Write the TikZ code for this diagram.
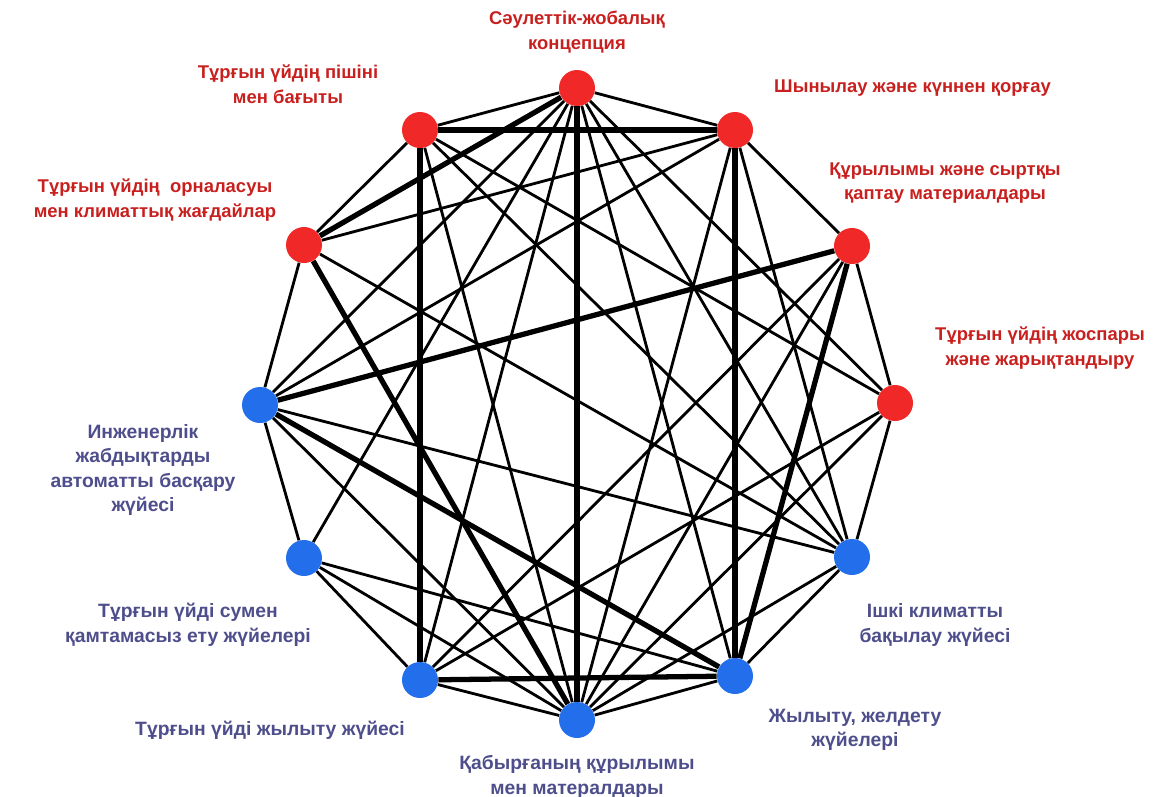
\documentclass[tikz,border=0pt]{standalone}
\usepackage{fontspec}
\setmainfont{Liberation Sans}
\usetikzlibrary{backgrounds}
\definecolor{nodered}{RGB}{240,40,40}
\definecolor{nodeblue}{RGB}{35,110,235}
\definecolor{txtred}{RGB}{200,32,30}
\definecolor{txtblue}{RGB}{78,78,140}
\begin{document}
\begin{tikzpicture}
[x=0.02cm,y=-0.02cm]
\tikzset{rd/.style={circle,fill=nodered,minimum size=0.72cm,inner sep=0pt}}
\tikzset{bl/.style={circle,fill=nodeblue,minimum size=0.72cm,inner sep=0pt}}
\tikzset{lbr/.style={text=txtred,font=\bfseries\fontsize{10.5}{14}\selectfont,align=center}}
\tikzset{lbb/.style={text=txtblue,font=\bfseries\fontsize{11}{14}\selectfont,align=center}}
\tikzset{lnk/.style={line width=1.6pt}}
\tikzset{lnkb/.style={line width=3pt}}
\useasboundingbox (0,0) rectangle (1167,796);
\node [rd] (a) at (577,88) {};
\node [rd] (b) at (735,130) {};
\node [rd] (c) at (852,246) {};
\node [rd] (d) at (895,403) {};
\node [bl] (e) at (852,557) {};
\node [bl] (f) at (735,676) {};
\node [bl] (g) at (577,720) {};
\node [bl] (h) at (420,680) {};
\node [bl] (i) at (304,558) {};
\node [bl] (j) at (260,405) {};
\node [rd] (k) at (304,245) {};
\node [rd] (l) at (420,130) {};

\node [lbr] (ta) at (577,32) {Сәулеттік-жобалық\\концепция};
\node [lbr] (tl) at (288,84) {Тұрғын үйдің пішіні\\мен бағыты};
\node [lbr,anchor=west] (tb) at (768,88) {Шынылау және күннен қорғау};
\node [lbr] (tc) at (945,183) {Құрылымы және сыртқы\\қаптау материалдары};
\node [lbr] (td) at (1040,348) {Тұрғын үйдің жоспары\\және жарықтандыру};
\node [lbr] (tk) at (155,200) {Тұрғын үйдің \ орналасуы\\мен климаттық жағдайлар};
\node [lbb] (tj) at (143,470) {Инженерлік\\жабдықтарды\\автоматты басқару\\жүйесі};
\node [lbb] (ti) at (188,625) {Тұрғын үйді сумен\\қамтамасыз ету жүйелері};
\node [lbb] (te) at (935,625) {Ішкі климатты\\бақылау жүйесі};
\node [lbb] (th) at (270,730) {Тұрғын үйді жылыту жүйесі};
\node [lbb] (tf) at (855,730) {Жылыту, желдету\\жүйелері};
\node [lbb] (tg) at (577,777) {Қабырғаның құрылымы\\мен матералдары};

\begin{scope}[on background layer]
% outer ring
\foreach \from/\to in {a/b,b/c,c/d,d/e,e/f,f/g,g/h,h/i,i/j,j/k,k/l,l/a}
	\draw [lnk] (\from) -- (\to);
% chords
\foreach \from/\to in {a/j,a/i,a/h,a/e,a/d,a/f,b/k,b/j,b/g,b/e,c/h,c/g,d/h,d/g,e/k,e/l,e/j,e/g,g/i,g/j,g/l,i/f,l/d}
	\draw [lnk] (\from) -- (\to);
% heavy links
\foreach \from/\to in {l/b,a/k,a/g,l/h,b/f,c/j,k/g,j/f,h/f,c/f}
	\draw [lnkb] (\from) -- (\to);
\end{scope}
\end{tikzpicture}
\end{document}
